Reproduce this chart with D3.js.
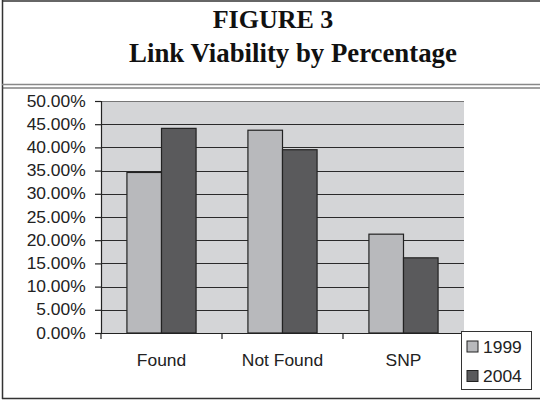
<!DOCTYPE html>
<html>
<head>
<meta charset="utf-8">
<script src="https://cdn.jsdelivr.net/npm/d3@7"></script>
<style>
  body { margin: 0; background: #fff; }
  svg { display: block; }
</style>
</head>
<body>
<div id="chart"></div>
<script>
var categories = ['Found', 'Not Found', 'SNP'];
var seriesNames = ['1999', '2004'];
var values1999 = [0.346, 0.437, 0.213];
var values2004 = [0.441, 0.395, 0.162];
var yTicks = [0, 0.05, 0.10, 0.15, 0.20, 0.25, 0.30, 0.35, 0.40, 0.45, 0.50];
var colors = ['#b8b9bc', '#5a5a5c'];

var width = 540, height = 401;
var stretch = 1.09;
var fontSize = '16px';

var svg = d3.select('#chart').append('svg')
  .attr('width', width)
  .attr('height', height);

// frame
svg.append('line').attr('x1', 2.5).attr('x2', 2.5).attr('y1', 0).attr('y2', 399)
  .attr('stroke', '#333').attr('stroke-width', 1.5);
svg.append('line').attr('x1', 2).attr('x2', 540).attr('y1', 1).attr('y2', 1)
  .attr('stroke', '#333').attr('stroke-width', 1.5);
svg.append('line').attr('x1', 2).attr('x2', 540).attr('y1', 398.5).attr('y2', 398.5)
  .attr('stroke', '#333').attr('stroke-width', 1.5);
// double rule under title
svg.append('line').attr('x1', 2).attr('x2', 540).attr('y1', 84.5).attr('y2', 84.5)
  .attr('stroke', '#888').attr('stroke-width', 1.5);
svg.append('line').attr('x1', 2).attr('x2', 540).attr('y1', 88).attr('y2', 88)
  .attr('stroke', '#444').attr('stroke-width', 1.2);

// titles
svg.append('text')
  .attr('x', 273).attr('y', 28)
  .attr('text-anchor', 'middle')
  .style('font-family', '"Liberation Serif", "Times New Roman", serif')
  .style('font-weight', 'bold')
  .style('font-size', '26px')
  .attr('fill', '#111')
  .text('FIGURE 3');
svg.append('text')
  .attr('x', 293).attr('y', 62)
  .attr('text-anchor', 'middle')
  .style('font-family', '"Liberation Serif", "Times New Roman", serif')
  .style('font-weight', 'bold')
  .style('font-size', '26.8px')
  .attr('fill', '#111')
  .text('Link Viability by Percentage');

// plot area
var margin = {left: 101, top: 101, right: 464, bottom: 333};

var x0 = d3.scaleBand()
  .domain(categories)
  .range([margin.left, margin.right])
  .paddingInner(0)
  .paddingOuter(0);

var x1 = d3.scaleBand()
  .domain(seriesNames)
  .range([0, x0.bandwidth()])
  .paddingInner(0)
  .paddingOuter(0.75);

var y = d3.scaleLinear()
  .domain([0, 0.5])
  .range([margin.bottom, margin.top]);

svg.append('rect')
  .attr('x', margin.left).attr('y', margin.top)
  .attr('width', margin.right - margin.left)
  .attr('height', margin.bottom - margin.top)
  .attr('fill', '#d4d5d7');

// gridlines
svg.append('g')
  .selectAll('line')
  .data(yTicks.slice(1))
  .enter().append('line')
  .attr('x1', margin.left).attr('x2', margin.right)
  .attr('y1', function(d) { return Math.round(y(d)) + 0.5; })
  .attr('y2', function(d) { return Math.round(y(d)) + 0.5; })
  .attr('stroke', function(d) { return d === 0.5 ? '#777' : '#2a2a2a'; })
  .attr('stroke-width', 1.2);

// bars
var data = categories.map(function(c, i) {
  return {cat: c, vals: [
    {name: '1999', value: values1999[i]},
    {name: '2004', value: values2004[i]}
  ]};
});

var groups = svg.append('g').selectAll('g')
  .data(data)
  .enter().append('g')
  .attr('transform', function(d) { return 'translate(' + x0(d.cat) + ',0)'; });

groups.selectAll('rect')
  .data(function(d) { return d.vals; })
  .enter().append('rect')
  .attr('x', function(d) { return x1(d.name); })
  .attr('y', function(d) { return y(d.value); })
  .attr('width', x1.bandwidth())
  .attr('height', function(d) { return y(0) - y(d.value); })
  .attr('fill', function(d, i) { return colors[i]; })
  .attr('stroke', '#222')
  .attr('stroke-width', 1.2);

// y axis
var yAxis = svg.append('g')
  .attr('transform', 'translate(' + margin.left + ',0)')
  .call(d3.axisLeft(y).tickValues(yTicks).tickSize(6).tickPadding(8)
    .tickFormat(function(d) { return (d * 100).toFixed(2) + '%'; }));
yAxis.select('.domain').attr('stroke', '#222').attr('stroke-width', 1.2);
yAxis.selectAll('.tick line').attr('stroke', '#222').attr('stroke-width', 1.2);
yAxis.selectAll('text')
  .style('font-family', '"Liberation Sans", Arial, sans-serif')
  .style('font-size', fontSize)
  .attr('fill', '#222')
  .attr('transform', 'scale(' + stretch + ',1)');

// x axis
var xAxis = svg.append('g')
  .attr('transform', 'translate(0,' + margin.bottom + ')')
  .call(d3.axisBottom(x0).tickSize(0).tickPadding(22));
xAxis.select('.domain').attr('stroke', '#222').attr('stroke-width', 1.2);
xAxis.selectAll('text')
  .style('font-family', '"Liberation Sans", Arial, sans-serif')
  .style('font-size', fontSize)
  .attr('fill', '#222')
  .attr('transform', function(d) { return 'translate(' + (x0(d) + x0.bandwidth() / 2) + ',0) scale(' + stretch + ',1)'; });
xAxis.selectAll('.tick').attr('transform', null);
xAxis.selectAll('.sep')
  .data(categories.concat(['end']))
  .enter().append('line')
  .attr('class', 'sep')
  .attr('x1', function(d, i) { return i < categories.length ? x0(d) : margin.right; })
  .attr('x2', function(d, i) { return i < categories.length ? x0(d) : margin.right; })
  .attr('y1', 0).attr('y2', 6)
  .attr('stroke', '#222').attr('stroke-width', 1.2);

// legend
var legend = svg.append('g').attr('transform', 'translate(461,331)');
legend.append('rect')
  .attr('x', 0.5).attr('y', 0.5)
  .attr('width', 70).attr('height', 58)
  .attr('fill', '#fff')
  .attr('stroke', '#333');
var items = legend.selectAll('.item')
  .data(seriesNames)
  .enter().append('g')
  .attr('class', 'item')
  .attr('transform', function(d, i) { return 'translate(6,' + (10 + i * 29.5) + ')'; });
items.append('rect')
  .attr('width', 11).attr('height', 11)
  .attr('fill', function(d, i) { return colors[i]; })
  .attr('stroke', '#222');
items.append('text')
  .attr('x', 16).attr('y', 11.5)
  .style('font-family', '"Liberation Sans", Arial, sans-serif')
  .style('font-size', fontSize)
  .attr('fill', '#222')
  .attr('transform', 'translate(16,0) scale(' + stretch + ',1) translate(-16,0)')
  .text(function(d) { return d; });
</script>
</body>
</html>
